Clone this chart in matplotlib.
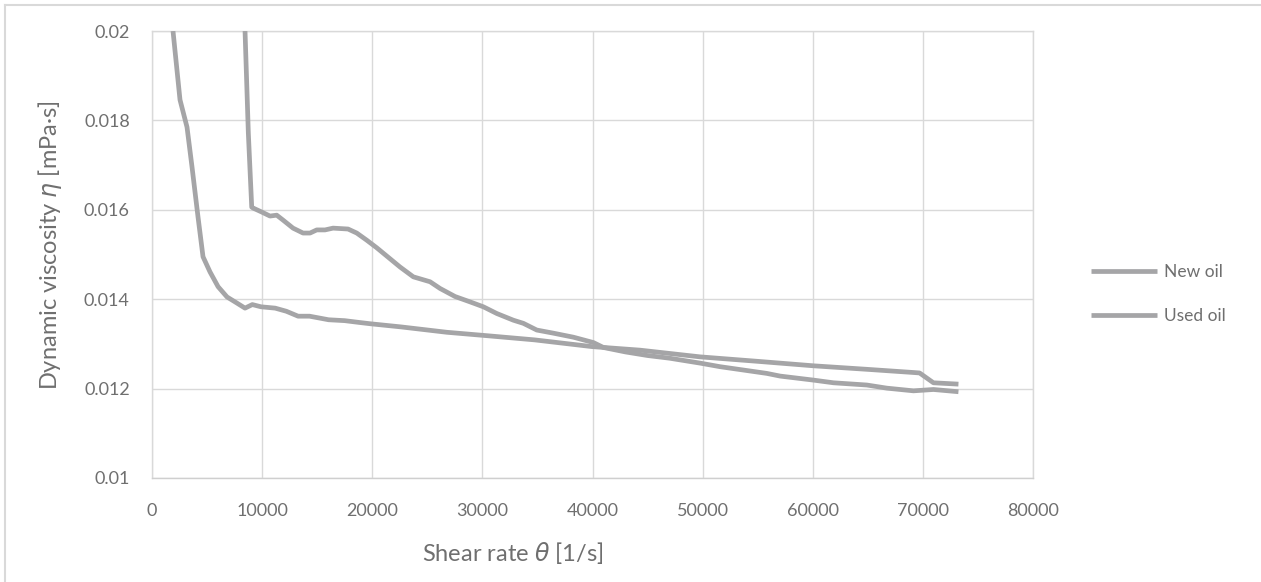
import matplotlib
matplotlib.use("Agg")
import matplotlib.pyplot as plt
from matplotlib.lines import Line2D

plt.rcParams['font.family'] = ['Lato', 'DejaVu Sans']
plt.rcParams['mathtext.fontset'] = 'dejavusans'

# New oil (curve starting at low shear rate)
new_x = [1907, 2543, 3179, 3633, 4178, 4632, 5268, 6000, 6812, 7539, 8447, 9110, 9900,
         11188, 12200, 13266, 14305, 16037, 17500, 18808, 19847, 22619, 26775, 30585,
         34742, 39938, 44320, 49773, 55000, 60064, 65000, 69146, 69700, 70960, 73230]
new_y = [0.0200, 0.01846, 0.01785, 0.01696, 0.01584, 0.01495, 0.01461, 0.01428, 0.01405,
         0.01394, 0.01380, 0.01388, 0.01383, 0.01380, 0.01373, 0.01362, 0.01362, 0.01354,
         0.01352, 0.01348, 0.01345, 0.01338, 0.01326, 0.01318, 0.01309, 0.01294, 0.01286,
         0.01271, 0.01261, 0.01251, 0.01243, 0.01236, 0.01235, 0.01213, 0.01210]

# Used oil (curve starting at higher shear rate)
used_x = [8447, 8747, 9055, 9173, 9964, 10717, 11326, 11898, 12806, 13715, 14351, 14959,
          15713, 16440, 17802, 18592, 19500, 20409, 22525, 23733, 25250, 26158, 27520,
          28883, 30091, 31308, 32816, 33724, 34941, 36449, 38265, 40082, 40990, 43000,
          45000, 47000, 49773, 51590, 55830, 57040, 60064, 61880, 64910, 66730, 69146,
          70960, 73230]
used_y = [0.0200, 0.01772, 0.01606, 0.01604, 0.01595, 0.01586, 0.01588, 0.01577, 0.01559,
          0.01548, 0.01548, 0.01555, 0.01555, 0.01559, 0.01557, 0.01548, 0.01532, 0.01515,
          0.01472, 0.01450, 0.01439, 0.01424, 0.01406, 0.01394, 0.01383, 0.01368, 0.01353,
          0.01346, 0.01331, 0.01324, 0.01315, 0.01303, 0.01292, 0.01282, 0.01274, 0.01268,
          0.01257, 0.01249, 0.01234, 0.01228, 0.01219, 0.01213, 0.01208, 0.01201, 0.01195,
          0.01198, 0.01193]

x_ticks = [0, 10000, 20000, 30000, 40000, 50000, 60000, 70000, 80000]
y_ticks = [0.01, 0.012, 0.014, 0.016, 0.018, 0.02]
y_ticklabels = ['0.01', '0.012', '0.014', '0.016', '0.018', '0.02']

W, H = 1261, 582
fig = plt.figure(figsize=(W / 100, H / 100), dpi=100)
ax = fig.add_axes([152 / W, 1 - 478 / H, (1033 - 152) / W, (478 - 31) / H])

line_color = '#a5a5a7'
grid_color = '#d9d9d9'
text_color = '#6f6f6f'

ax.plot(new_x, new_y, color=line_color, lw=3.4, solid_joinstyle='round',
        solid_capstyle='butt', label='New oil', zorder=3)
ax.plot(used_x, used_y, color=line_color, lw=3.4, solid_joinstyle='round',
        solid_capstyle='butt', label='Used oil', zorder=3)

ax.set_xlim(0, 80000)
ax.set_ylim(0.01, 0.02)
ax.set_xticks(x_ticks)
ax.set_xticklabels([str(t) for t in x_ticks])
ax.set_yticks(y_ticks)
ax.set_yticklabels(y_ticklabels)
ax.grid(True, color=grid_color, lw=1.0, zorder=0)
for s in ax.spines.values():
    s.set_color(grid_color)
    s.set_linewidth(1.0)
ax.spines['bottom'].set_color('#cfcfcf')
ax.tick_params(axis='x', length=0, labelsize=13, colors=text_color, pad=18)
ax.tick_params(axis='y', length=0, labelsize=13, colors=text_color, pad=16)

fig.text(513 / W, 1 - 553 / H, r'Shear rate $\theta$ [1/s]', fontsize=17,
         color=text_color, ha='center', va='center')
fig.text(50 / W, 1 - 245 / H, r'Dynamic viscosity $\eta$ [mPa·s]', fontsize=17,
         color=text_color, ha='center', va='center', rotation=90)

leg = ax.legend(loc='center left', bbox_to_anchor=(1075 / W, 1 - 294 / H),
                bbox_transform=fig.transFigure, frameon=False, fontsize=12.5,
                labelcolor=text_color, handlelength=3.8, handletextpad=0.4,
                labelspacing=1.6)

# figure border (top and left visible)
fig.add_artist(Line2D([5 / W, 1], [1 - 5 / H, 1 - 5 / H], transform=fig.transFigure,
                      color=grid_color, lw=1.5))
fig.add_artist(Line2D([5 / W, 5 / W], [0, 1 - 5 / H], transform=fig.transFigure,
                      color=grid_color, lw=1.5))

fig.savefig('out.png', dpi=100, facecolor='white')
